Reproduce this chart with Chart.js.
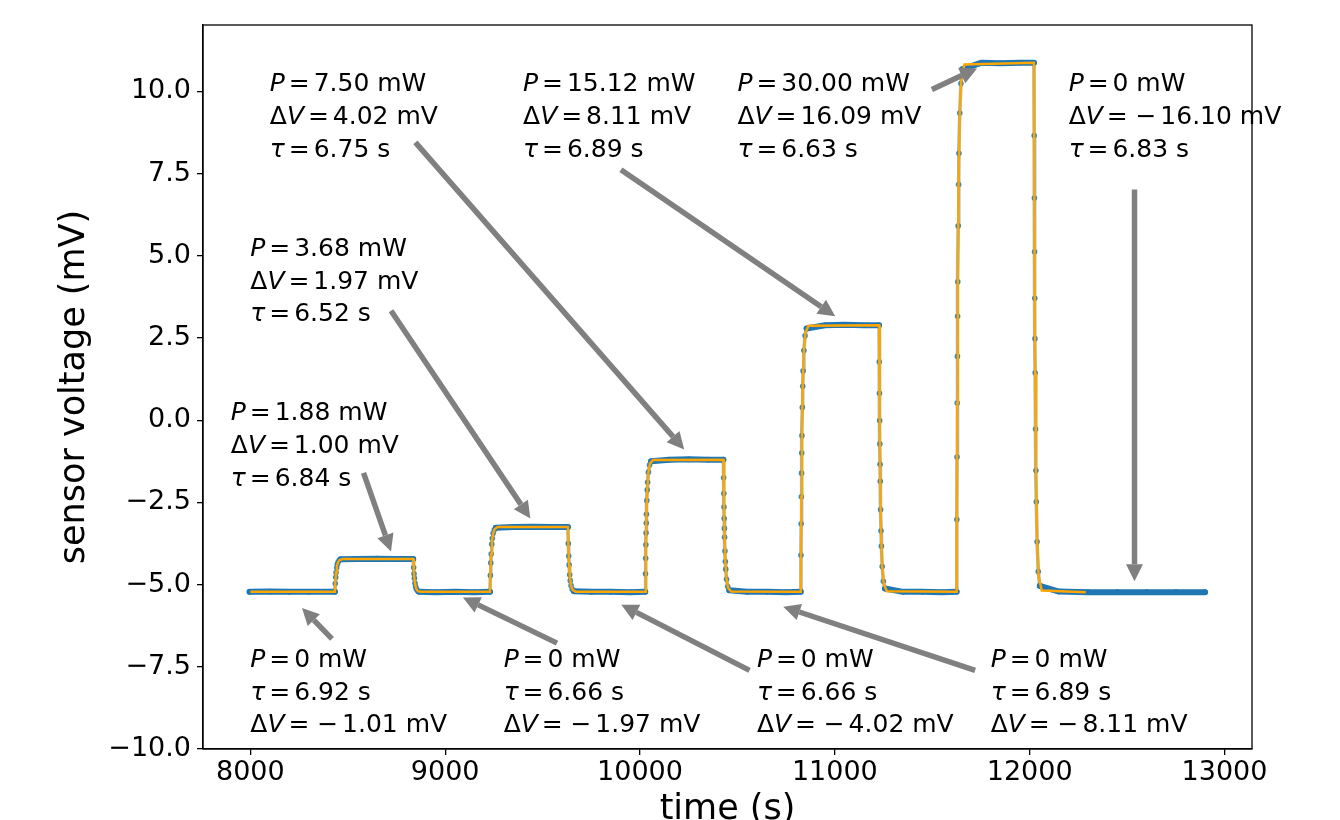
<!DOCTYPE html>
<html>
<head>
<meta charset="utf-8">
<title>sensor voltage vs time</title>
<script src="https://cdn.jsdelivr.net/npm/chart.js@4.4.1/dist/chart.umd.min.js"></script>
<style>
  html, body { margin: 0; padding: 0; background: #fff; }
  #wrap { width: 1340px; height: 820px; }
</style>
</head>
<body>
<div id="wrap"><canvas id="voltChart" width="1340" height="820"></canvas></div>
<script>
const xTicks = [8000, 9000, 10000, 11000, 12000, 13000];
const yTicks = [-10, -7.5, -5, -2.5, 0, 2.5, 5, 7.5, 10];

// measured sensor voltage (blue dots), time in s, voltage in mV
const sensorTime = [
  7996, 8100, 8200, 8300, 8434,
  8436, 8438, 8440, 8443, 8446, 8450, 8456, 8464,
  8550, 8650, 8750, 8836,
  8838, 8840, 8842, 8845, 8848, 8852, 8858, 8866,
  8950, 9050, 9150, 9230,
  9232, 9234, 9236, 9239, 9242, 9246, 9252, 9260,
  9350, 9450, 9550, 9630,
  9632, 9634, 9636, 9639, 9642, 9646, 9652, 9660,
  9750, 9850, 9950, 10027,
  10028, 10029, 10030, 10031, 10032, 10033, 10035, 10037, 10039, 10043, 10049, 10057,
  10150, 10250, 10350, 10428,
  10429, 10430, 10431, 10432, 10433, 10434, 10436, 10438, 10440, 10444, 10450, 10458,
  10550, 10650, 10750, 10825,
  10826, 10827, 10828, 10829, 10830, 10831, 10833, 10835, 10837, 10841, 10847, 10855,
  10950, 11050, 11150, 11227,
  11228, 11229, 11230, 11231, 11232, 11233, 11235, 11237, 11239, 11243, 11249, 11257,
  11350, 11450, 11550, 11625,
  11626, 11627, 11628, 11629, 11630, 11631, 11633, 11635, 11637, 11641, 11647, 11655,
  11750, 11850, 11950, 12022,
  12023, 12024, 12025, 12026, 12027, 12028, 12030, 12032, 12034, 12038, 12044, 12052,
  12150, 12300, 12450, 12600, 12750, 12900
];
const sensorVolt = [
  -5.22, -5.21, -5.22, -5.22, -5.22,
  -4.97, -4.78, -4.63, -4.49, -4.39, -4.32, -4.26, -4.23,
  -4.22, -4.21, -4.22, -4.22,
  -4.48, -4.67, -4.81, -4.96, -5.06, -5.13, -5.19, -5.22,
  -5.23, -5.22, -5.23, -5.22,
  -4.72, -4.34, -4.07, -3.77, -3.59, -3.44, -3.33, -3.27,
  -3.25, -3.24, -3.25, -3.25,
  -3.75, -4.13, -4.40, -4.70, -4.88, -5.03, -5.14, -5.20,
  -5.22, -5.22, -5.23, -5.22,
  -4.67, -4.20, -3.79, -3.43, -3.13, -2.86, -2.44, -2.12, -1.89, -1.58, -1.36, -1.25,
  -1.20, -1.19, -1.20, -1.20,
  -1.75, -2.23, -2.64, -2.99, -3.29, -3.56, -3.98, -4.30, -4.53, -4.84, -5.06, -5.17,
  -5.22, -5.22, -5.23, -5.22,
  -4.11, -3.15, -2.33, -1.61, -1.00, -0.47, 0.39, 1.03, 1.50, 2.12, 2.57, 2.79,
  2.89, 2.90, 2.89, 2.89,
  1.78, 0.82, -0.01, -0.72, -1.34, -1.86, -2.72, -3.36, -3.83, -4.45, -4.90, -5.12,
  -5.22, -5.22, -5.23, -5.22,
  -3.02, -1.12, 0.52, 1.94, 3.16, 4.21, 5.91, 7.17, 8.12, 9.34, 10.24, 10.68,
  10.87, 10.86, 10.87, 10.87,
  8.66, 6.76, 5.12, 3.71, 2.48, 1.44, -0.27, -1.53, -2.48, -3.70, -4.60, -5.04,
  -5.21, -5.23, -5.23, -5.23, -5.23, -5.23
];

// exponential fit (orange line)
const fitTime = [
  8000, 8434,
  8437, 8440, 8444, 8450, 8458, 8474, 8836,
  8839, 8842, 8846, 8852, 8860, 8876, 9230,
  9233, 9236, 9240, 9246, 9254, 9270, 9630,
  9633, 9636, 9640, 9646, 9654, 9670, 10027,
  10030, 10033, 10037, 10043, 10051, 10067, 10428,
  10431, 10434, 10438, 10444, 10452, 10468, 10825,
  10828, 10831, 10835, 10841, 10849, 10865, 11227,
  11230, 11233, 11237, 11243, 11251, 11267, 11625,
  11628, 11631, 11635, 11641, 11649, 11665, 12022,
  12025, 12028, 12032, 12038, 12046, 12062, 12288
];
const fitVolt = [
  -5.22, -5.22,
  -4.86, -4.63, -4.45, -4.32, -4.25, -4.22, -4.22,
  -4.58, -4.81, -5.00, -5.13, -5.20, -5.22, -5.22,
  -4.52, -4.07, -3.70, -3.44, -3.31, -3.25, -3.25,
  -3.95, -4.40, -4.77, -5.03, -5.16, -5.22, -5.22,
  -3.79, -2.86, -2.13, -1.58, -1.32, -1.21, -1.20,
  -2.64, -3.56, -4.30, -4.84, -5.10, -5.21, -5.22,
  -2.33, -0.47, 1.03, 2.12, 2.66, 2.87, 2.89,
  -0.01, -1.86, -3.36, -4.45, -4.99, -5.20, -5.22,
  0.52, 4.21, 7.17, 9.34, 10.40, 10.82, 10.87,
  5.12, 1.44, -1.53, -3.70, -4.76, -5.18, -5.23
];

// fit results written next to each step, with arrows (data coordinates)
const notes = [
  { x: 8100, y: 10, lines: [['P', '7.50 mW'], ['ΔV', '4.02 mV'], ['τ', '6.75 s']], tail: [8847, 8.45], head: [10227, -0.89] },
  { x: 9400, y: 10, lines: [['P', '15.12 mW'], ['ΔV', '8.11 mV'], ['τ', '6.89 s']], tail: [9902, 7.62], head: [11002, 3.16] },
  { x: 10500, y: 10, lines: [['P', '30.00 mW'], ['ΔV', '16.09 mV'], ['τ', '6.63 s']], tail: [11498, 10.06], head: [11730, 10.70] },
  { x: 12200, y: 10, lines: [['P', '0 mW'], ['ΔV', '−16.10 mV'], ['τ', '6.83 s']], tail: [12538, 7.02], head: [12538, -4.90] },
  { x: 8000, y: 5, lines: [['P', '3.68 mW'], ['ΔV', '1.97 mV'], ['τ', '6.52 s']], tail: [8722, 3.33], head: [9437, -2.99] },
  { x: 7900, y: 0, lines: [['P', '1.88 mW'], ['ΔV', '1.00 mV'], ['τ', '6.84 s']], tail: [8581, -1.60], head: [8722, -3.99] },
  { x: 8000, y: -7.5, lines: [['P', '0 mW'], ['τ', '6.92 s'], ['ΔV', '−1.01 mV']], tail: [8419, -6.65], head: [8265, -5.71] },
  { x: 9300, y: -7.5, lines: [['P', '0 mW'], ['τ', '6.66 s'], ['ΔV', '−1.97 mV']], tail: [9574, -6.78], head: [9091, -5.39] },
  { x: 10600, y: -7.5, lines: [['P', '0 mW'], ['τ', '6.66 s'], ['ΔV', '−4.02 mV']], tail: [10562, -7.61], head: [9904, -5.61] },
  { x: 11800, y: -7.5, lines: [['P', '0 mW'], ['τ', '6.89 s'], ['ΔV', '−8.11 mV']], tail: [11720, -7.61], head: [10735, -5.67] }
];

const FONT = '"DejaVu Sans", sans-serif';
const REG = '25px ' + FONT;
const ITA = 'italic 25px ' + FONT;
const GAP = 3.9;   // math spacing around "=" and "−"

function drawArrow(ctx, x0, y0, x1, y1) {
  const dx = x1 - x0, dy = y1 - y0;
  const len = Math.hypot(dx, dy);
  const ux = dx / len, uy = dy / len;
  const headLen = 17, headW = 17;
  const bx = x1 - ux * headLen, by = y1 - uy * headLen;
  ctx.strokeStyle = 'gray';
  ctx.lineWidth = 5.5;
  ctx.beginPath();
  ctx.moveTo(x0, y0);
  ctx.lineTo(bx, by);
  ctx.stroke();
  ctx.fillStyle = 'gray';
  ctx.beginPath();
  ctx.moveTo(x1, y1);
  ctx.lineTo(bx - uy * headW / 2, by + ux * headW / 2);
  ctx.lineTo(bx + uy * headW / 2, by - ux * headW / 2);
  ctx.closePath();
  ctx.fill();
}

// draw one text piece and return the new pen position
function put(ctx, txt, x, y, font) {
  ctx.font = font;
  ctx.fillText(txt, x, y);
  return x + ctx.measureText(txt).width;
}

function drawNoteLine(ctx, x, y, sym, val) {
  let cx = x;
  if (sym === 'ΔV') {
    cx = put(ctx, 'Δ', cx, y, REG);
    cx = put(ctx, 'V', cx, y, ITA);
  } else {
    cx = put(ctx, sym, cx, y, ITA);
  }
  cx = put(ctx, '=', cx + GAP, y, REG) + GAP;
  if (val.startsWith('−')) {
    cx = put(ctx, '−', cx + GAP, y, REG) + GAP;
    val = val.slice(1);
  }
  put(ctx, val, cx, y, REG);
}

const notesPlugin = {
  id: 'notes',
  afterDraw(chart) {
    const {ctx, chartArea: a, scales: {x, y}} = chart;
    ctx.save();
    // frame (top and right spines)
    ctx.strokeStyle = '#000';
    ctx.lineWidth = 1.3;
    ctx.strokeRect(a.left, a.top, a.right - a.left, a.bottom - a.top);

    notes.forEach(n => {
      drawArrow(ctx,
        x.getPixelForValue(n.tail[0]), y.getPixelForValue(n.tail[1]),
        x.getPixelForValue(n.head[0]), y.getPixelForValue(n.head[1]));
    });

    ctx.fillStyle = '#000';
    ctx.textBaseline = 'alphabetic';
    ctx.textAlign = 'left';
    notes.forEach(n => {
      const px = x.getPixelForValue(n.x);
      const py = y.getPixelForValue(n.y);
      n.lines.forEach((l, i) => drawNoteLine(ctx, px, py + i * 32.7, l[0], l[1]));
    });
    ctx.restore();
  }
};

const minus = v => String(v).replace('-', '\u2212');
// samples on the switching edges are sparse: show them as single dots, not a band
const onEdge = c => c.p1.parsed.x - c.p0.parsed.x < 20;

new Chart(document.getElementById('voltChart'), {
  type: 'line',
  data: {
    datasets: [
      {
        label: 'fit',
        data: fitTime.map((t, i) => ({x: t, y: fitVolt[i]})),
        borderColor: 'orange',
        borderWidth: 2.5,
        pointRadius: 0,
        tension: 0,
        order: 0
      },
      {
        label: 'sensor',
        data: sensorTime.map((t, i) => ({x: t, y: sensorVolt[i]})),
        borderColor: '#1f77b4',
        borderWidth: 6,
        borderJoinStyle: 'round',
        borderCapStyle: 'round',
        pointRadius: 2.8,
        pointBorderWidth: 0,
        pointBackgroundColor: 'rgba(31,119,180,0.85)',
        tension: 0,
        segment: {
          borderWidth: c => onEdge(c) ? 3.5 : 6,
          borderColor: c => onEdge(c) ? 'rgba(31,119,180,0.5)' : '#1f77b4'
        },
        order: 1
      }
    ]
  },
  options: {
    responsive: false,
    animation: false,
    devicePixelRatio: 1,
    layout: { padding: { top: 25, right: 88, left: 0, bottom: 0 } },
    plugins: {
      legend: { display: false },
      tooltip: { enabled: false }
    },
    scales: {
      x: {
        type: 'linear',
        position: 'bottom',
        min: 7757,
        max: 13141,
        afterFit: s => { s.height = 71; },
        afterBuildTicks: s => { s.ticks = xTicks.map(v => ({value: v})); },
        ticks: {
          color: '#000',
          font: { family: FONT, size: 27 },
          padding: 2,
          maxRotation: 0,
          callback: v => String(v)
        },
        grid: { drawOnChartArea: false, tickLength: 6, color: '#000', lineWidth: 1.3 },
        border: { color: '#000', width: 1.3 },
        title: {
          display: true,
          text: 'time (s)',
          color: '#000',
          font: { family: FONT, size: 35 },
          padding: { top: 0, bottom: -10.5 }
        }
      },
      y: {
        min: -10,
        max: 12.02,
        afterFit: s => { s.width = 203; },
        afterBuildTicks: s => { s.ticks = yTicks.map(v => ({value: v})); },
        ticks: {
          color: '#000',
          font: { family: FONT, size: 27 },
          padding: 6,
          callback: v => minus(v.toFixed(1))
        },
        grid: { drawOnChartArea: false, tickLength: 6, color: '#000', lineWidth: 1.3 },
        border: { color: '#000', width: 1.3 },
        title: {
          display: true,
          text: 'sensor voltage (mV)',
          color: '#000',
          font: { family: FONT, size: 35 },
          padding: { top: 54, bottom: 0 }
        }
      }
    }
  },
  plugins: [notesPlugin]
});
</script>
</body>
</html>
